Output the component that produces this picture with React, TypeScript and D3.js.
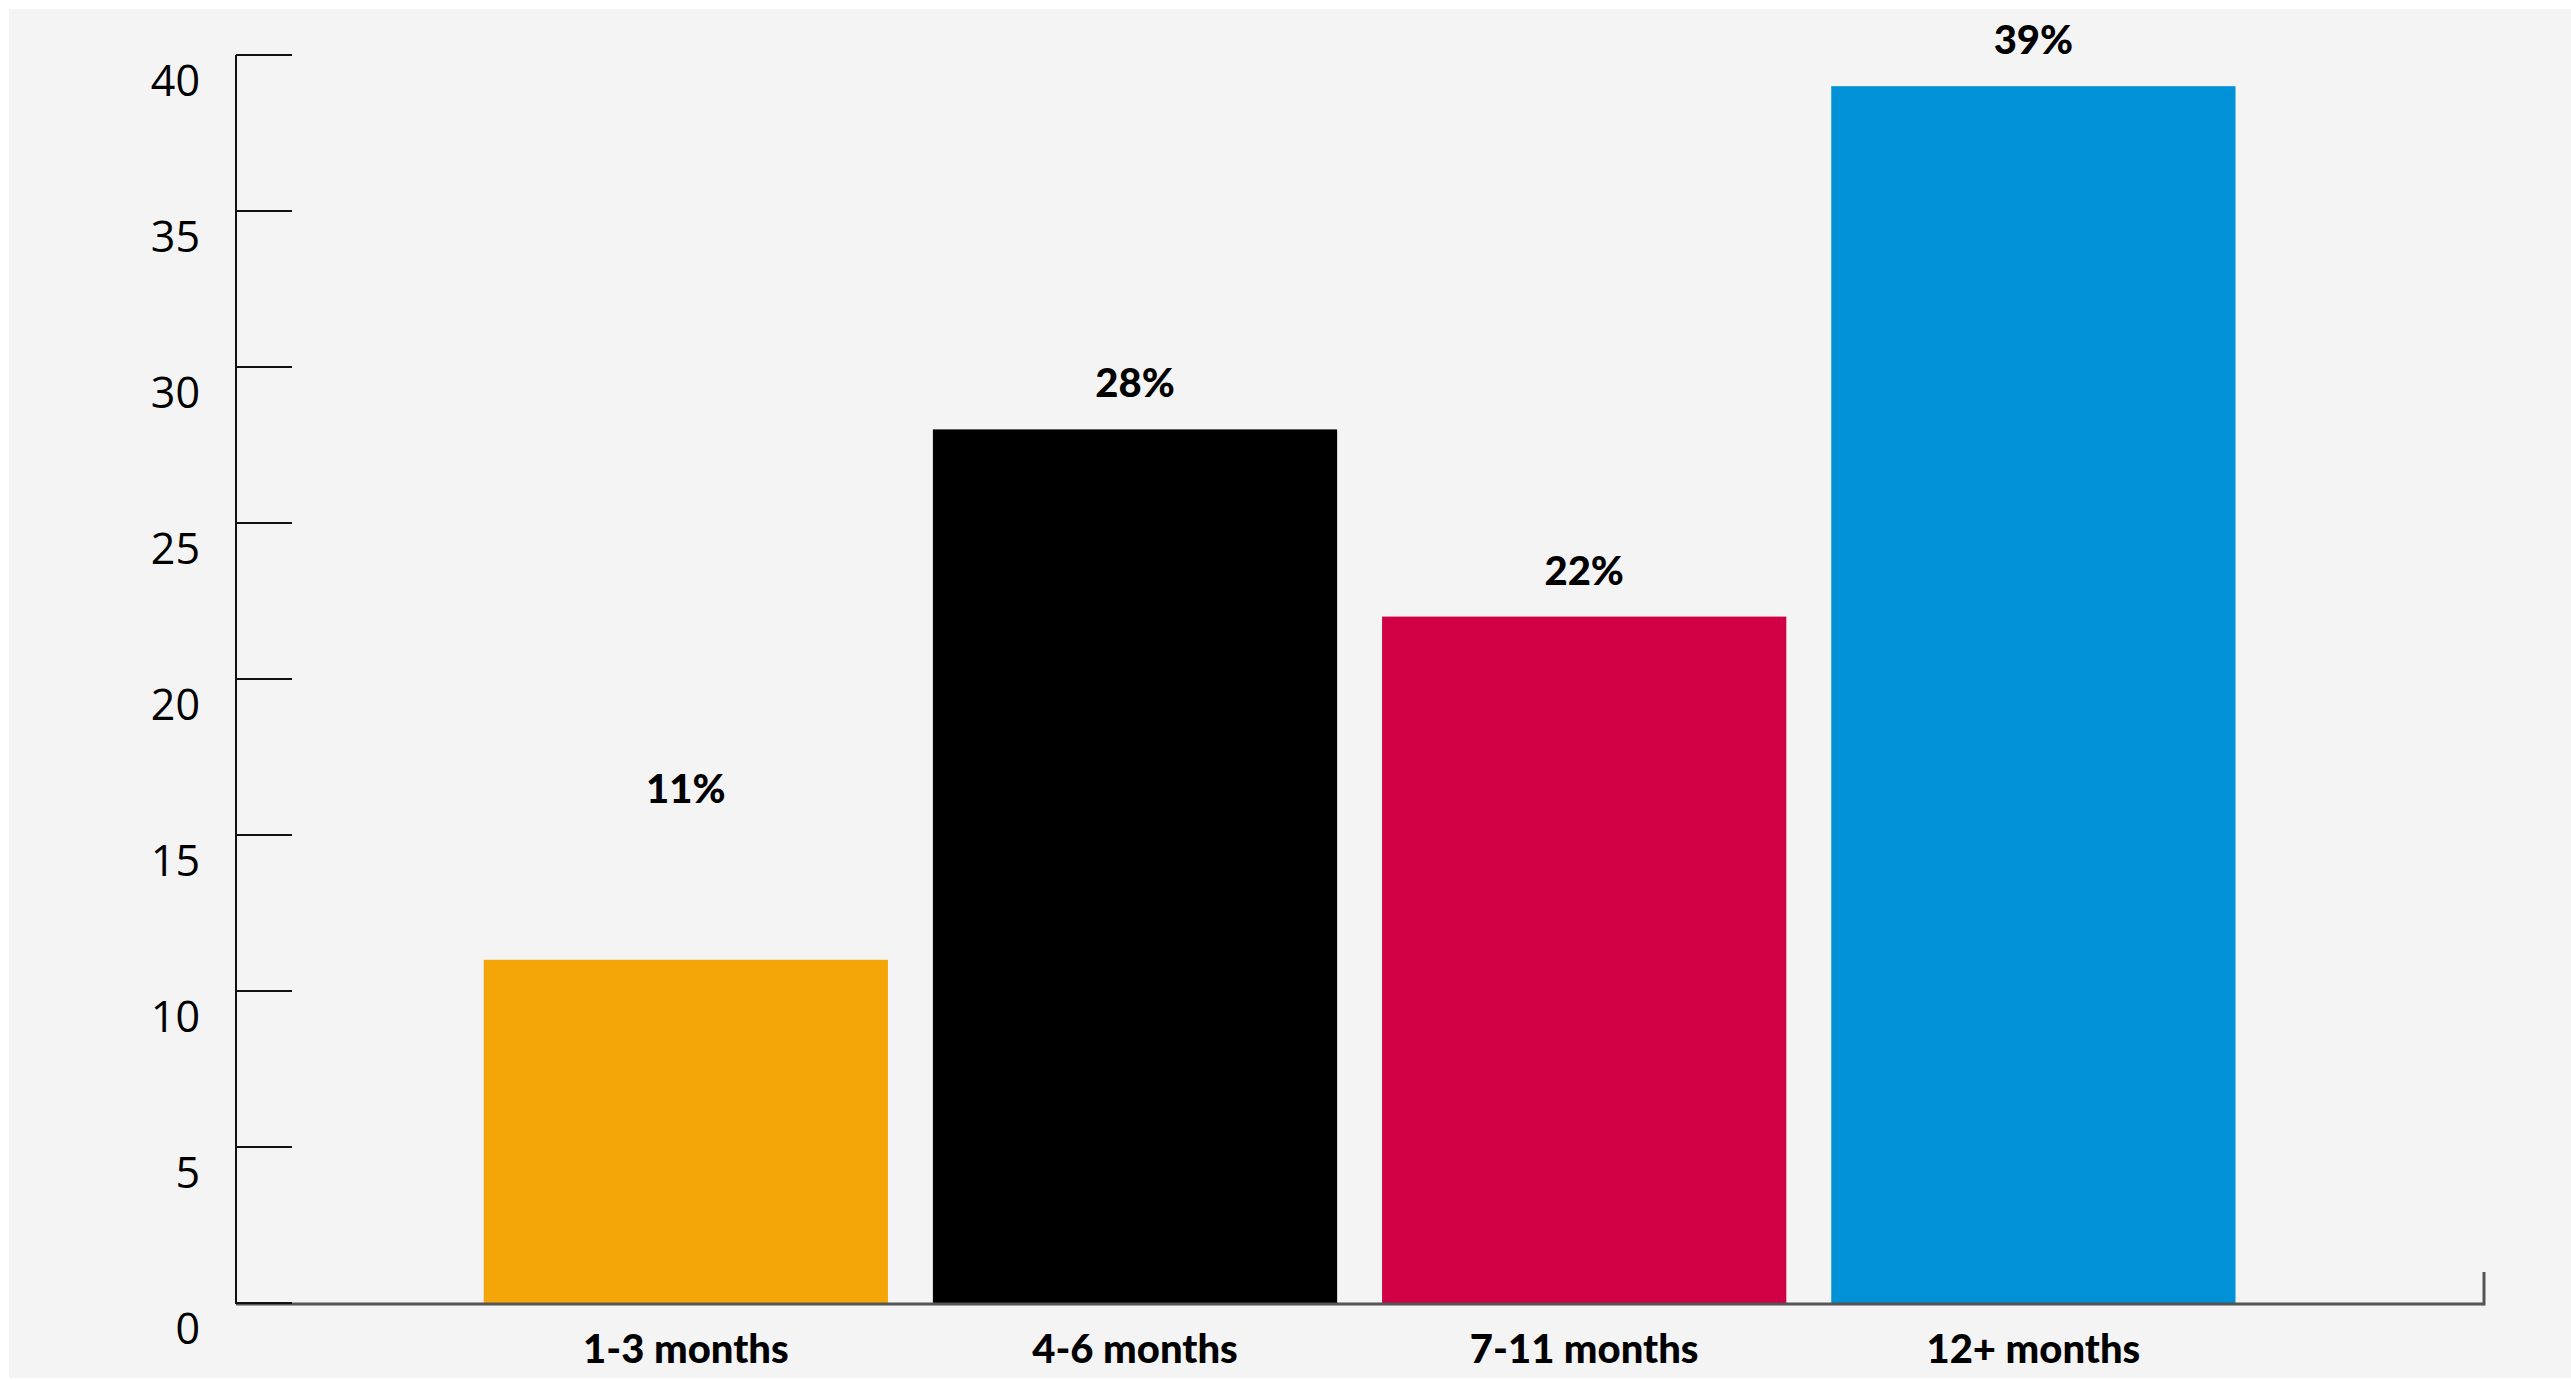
import React from "react";
import * as d3 from "d3";

const categories = ["1-3 months", "4-6 months", "7-11 months", "12+ months"];
const values = [11, 28, 22, 39];
const valueLabels = ["11%", "28%", "22%", "39%"];
const barColors = ["#F4A608", "#000000", "#D10044", "#0091D6"];
const yTicks = [0, 5, 10, 15, 20, 25, 30, 35, 40];

const W = 2571;
const H = 1380;

export default function App() {
  const y = d3.scaleLinear().domain([0, 40]).range([1303, 55]);
  const x = d3
    .scaleBand<string>()
    .domain(categories)
    .range([483.7, 2235.5])
    .paddingInner(0.1)
    .paddingOuter(0);

  const axisX = 236;
  const axisRight = 2484;
  const tickLen = 56;
  const labelFloor = 15;

  return (
    <svg
      width={W}
      height={H}
      style={{ position: "absolute", left: 0, top: 0, display: "block" }}
    >
      <rect x={0} y={0} width={W} height={H} fill="#ffffff" />
      <rect x={9} y={9} width={W - 9} height={1369} fill="#f4f4f4" />

      {categories.map((c, i) => (
        <rect
          key={c}
          x={x(c)}
          y={y(values[i])}
          width={x.bandwidth()}
          height={y(0) - y(values[i])}
          fill={barColors[i]}
        />
      ))}

      {categories.map((c, i) => (
        <text
          key={"v" + c}
          x={(x(c) as number) + x.bandwidth() / 2}
          y={y(Math.max(values[i], labelFloor)) - 32}
          textAnchor="middle"
          fontFamily="Lato, 'Noto Sans', sans-serif"
          fontWeight={900}
          fontSize={40}
          fill="#000"
        >
          {valueLabels[i]}
        </text>
      ))}

      <line
        x1={axisX}
        x2={axisRight}
        y1={y(0) + 1}
        y2={y(0) + 1}
        stroke="#555555"
        strokeWidth={3}
      />
      <line
        x1={axisRight}
        x2={axisRight}
        y1={y(0) - 31}
        y2={y(0) + 2.5}
        stroke="#555555"
        strokeWidth={3}
      />

      <line
        x1={axisX}
        x2={axisX}
        y1={y(40)}
        y2={y(0) + 1}
        stroke="#111"
        strokeWidth={2}
      />
      {yTicks.map((t) => (
        <g key={t}>
          <line
            x1={axisX}
            x2={axisX + tickLen}
            y1={y(t)}
            y2={y(t)}
            stroke="#111"
            strokeWidth={2}
          />
          <text
            x={200}
            y={y(t) + 41}
            textAnchor="end"
            fontFamily="'Open Sans', 'Noto Sans', sans-serif"
            fontSize={43}
            fill="#000"
          >
            {t}
          </text>
        </g>
      ))}

      {categories.map((c) => (
        <text
          key={"c" + c}
          x={(x(c) as number) + x.bandwidth() / 2}
          y={1362.7}
          textAnchor="middle"
          fontFamily="Lato, 'Noto Sans', sans-serif"
          fontWeight={900}
          fontSize={40}
          fill="#000"
        >
          {c}
        </text>
      ))}
    </svg>
  );
}
